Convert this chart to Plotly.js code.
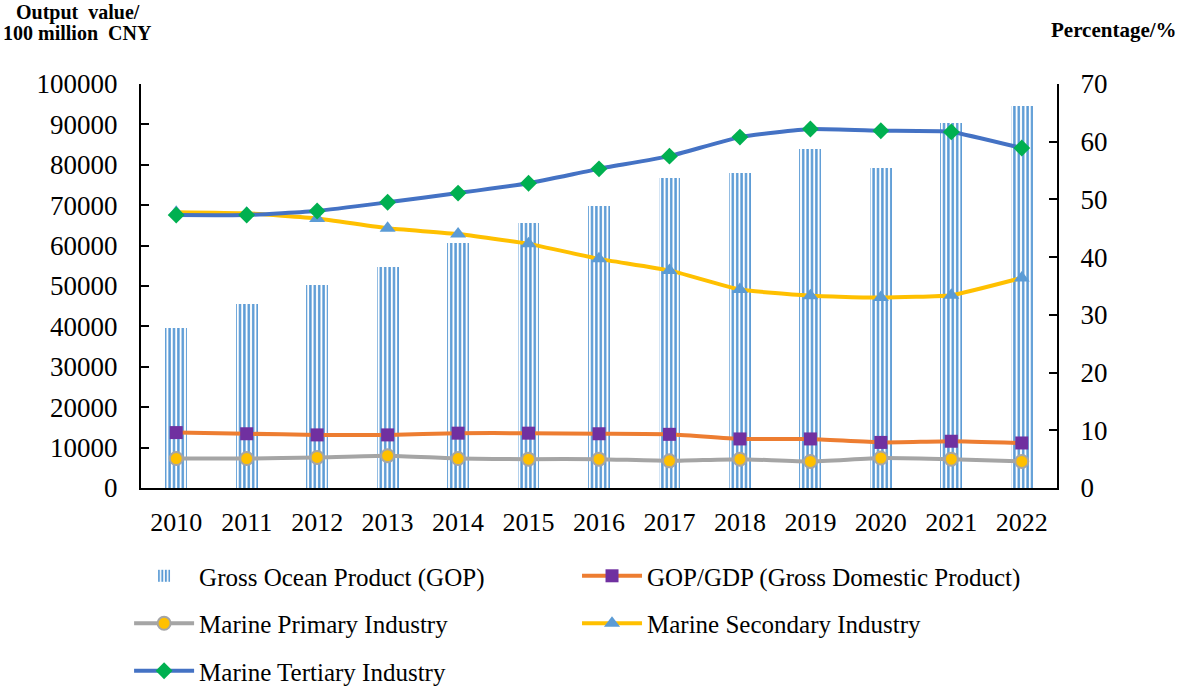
<!DOCTYPE html>
<html>
<head>
<meta charset="utf-8">
<script src="https://cdn.plot.ly/plotly-3.0.1.min.js"></script>
<style>html,body{margin:0;padding:0;background:#fff;}#chart{width:1181px;height:692px;}</style>
</head>
<body>
<div id="chart"></div>
<script>
const years = ['2010','2011','2012','2013','2014','2015','2016','2017','2018','2019','2020','2021','2022'];
const gop = [39572, 45570, 50173, 54718, 60699, 65534, 69694, 76749, 78000, 84000, 79228, 90385, 94628];
const gopGdp = [9.6, 9.4, 9.2, 9.2, 9.5, 9.5, 9.4, 9.3, 8.5, 8.5, 7.9, 8.1, 7.8];
const primary = [5.1, 5.1, 5.3, 5.6, 5.1, 5.0, 5.0, 4.7, 5.0, 4.6, 5.2, 5.0, 4.6];
const secondary = [47.8, 47.6, 46.7, 45.0, 44.0, 42.3, 39.7, 37.7, 34.4, 33.3, 33.0, 33.4, 36.4];
const tertiary = [47.3, 47.3, 48.0, 49.5, 51.1, 52.8, 55.3, 57.5, 60.8, 62.2, 61.9, 61.7, 58.9];

const serif = 'Liberation Serif, Times New Roman, serif';

const traces = [
  {type:'bar', name:'Gross Ocean Product (GOP)', x:years, y:gop, width:0.31,
   marker:{color:'#ffffff', line:{width:0}, pattern:{shape:'|', fgcolor:'#5b9bd5', bgcolor:'#ffffff', size:4.4, solidity:0.55}},
   legend:'legend', legendgroup:'a', showlegend:true},
  {type:'scatter', mode:'lines+markers', name:'GOP/GDP (Gross Domestic Product)', x:years, y:gopGdp, yaxis:'y2',
   line:{color:'#ed7d31', width:4, shape:'spline', smoothing:0.4},
   marker:{symbol:'square', size:13, color:'#7030a0'}, legend:'legend2', legendgroup:'b'},
  {type:'scatter', mode:'lines+markers', name:'Marine Primary Industry', x:years, y:primary, yaxis:'y2',
   line:{color:'#a5a5a5', width:4, shape:'spline', smoothing:0.4},
   marker:{symbol:'circle', size:13, color:'#ffc000', line:{color:'#a5a5a5', width:2}}, legend:'legend', legendgroup:'c'},
  {type:'scatter', mode:'lines+markers', name:'Marine Secondary Industry', x:years, y:secondary, yaxis:'y2',
   line:{color:'#ffc000', width:4, shape:'spline', smoothing:0.4},
   marker:{symbol:'triangle-up', size:14, color:'#5b9bd5'}, legend:'legend2', legendgroup:'d'},
  {type:'scatter', mode:'lines+markers', name:'Marine Tertiary Industry', x:years, y:tertiary, yaxis:'y2',
   line:{color:'#4472c4', width:4, shape:'spline', smoothing:0.4},
   marker:{symbol:'diamond', size:13, color:'#00b050'}, legend:'legend', legendgroup:'e'}
];

const legendBase = {orientation:'v', font:{family:serif, size:25, color:'#000'}, bgcolor:'rgba(0,0,0,0)',
  tracegroupgap:12, itemwidth:60, xanchor:'left', yanchor:'top', traceorder:'grouped'};

const layout = {
  width:1181, height:692,
  margin:{l:141, r:124, t:84, b:204, autoexpand:false},
  paper_bgcolor:'#ffffff', plot_bgcolor:'#ffffff',
  font:{family:serif, color:'#000'},
  bargap:0,
  xaxis:{type:'category', range:[-0.5,12.5], showline:true, linecolor:'#000', linewidth:2,
    ticks:'', tickfont:{family:serif, size:26, color:'#000'}, ticklabelstandoff:10, showgrid:false, zeroline:false, fixedrange:true},
  yaxis:{range:[0,100000], dtick:10000, showline:true, linecolor:'#000', linewidth:2, ticks:'inside', ticklen:8, tickwidth:2, tickcolor:'#000',
    tickfont:{family:serif, size:27, color:'#000'}, ticklabelstandoff:16, showgrid:false, zeroline:false, tickformat:'d'},
  yaxis2:{range:[0,70], dtick:10, overlaying:'y', side:'right', showline:true, linecolor:'#000', linewidth:2, ticks:'inside', ticklen:8, tickwidth:2, tickcolor:'#000',
    tickfont:{family:serif, size:27, color:'#000'}, ticklabelstandoff:16, showgrid:false, zeroline:false},
  legend: Object.assign({}, legendBase, {x:-0.013, y:-0.161}),
  legend2: Object.assign({}, legendBase, {x:0.476, y:-0.161}),
  annotations:[
    {text:'<b>Output  value/</b>', xref:'paper', yref:'paper', x:-0.139, y:1.0, xanchor:'left', yanchor:'middle', showarrow:false,
     xshift:0, yshift:72, font:{family:serif, size:20, color:'#000'}},
    {text:'<b>100 million  CNY</b>', xref:'paper', yref:'paper', x:-0.153, y:1.0, xanchor:'left', yanchor:'middle', showarrow:false,
     yshift:51, font:{family:serif, size:20, color:'#000'}},
    {text:'<b>Percentage/%</b>', xref:'paper', yref:'paper', x:1.0, y:1.0, xanchor:'right', yanchor:'middle', showarrow:false,
     xshift:122, yshift:54, font:{family:serif, size:21, color:'#000'}}
  ],
  showlegend:true
};

Plotly.newPlot('chart', traces, layout, {staticPlot:true, displayModeBar:false});
</script>
</body>
</html>
